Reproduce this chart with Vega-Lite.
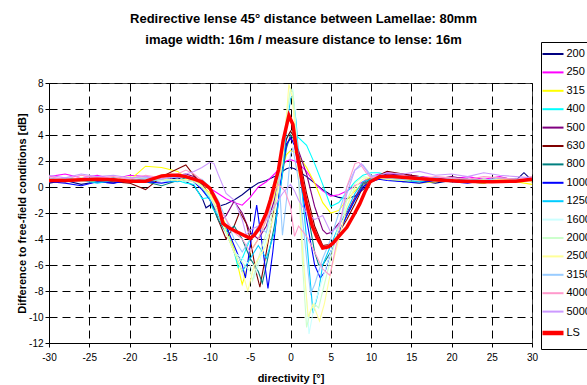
{
"$schema": "https://vega.github.io/schema/vega-lite/v6.json",
"width": 483, "height": 260,
"autosize": {"type": "none"},
"padding": {"left": 49, "top": 83, "right": 55, "bottom": 42},
"background": "white",
"config": {"font": "Liberation Sans", "view": {"stroke": "#404040", "strokeWidth": 1}},
"title": {"text": ["Redirective lense 45° distance between Lamellae: 80mm", "image width: 16m / measure distance to lense: 16m"], "fontSize": 13, "fontWeight": "bold", "font": "Liberation Sans", "color": "black", "anchor": "middle", "offset": -5, "lineHeight": 21, "dx": 13},
"data": {"values": [
{"s":"200","x":-30,"y":0.3},{"s":"200","x":-28,"y":0.5},{"s":"200","x":-26,"y":0.2},{"s":"200","x":-24,"y":0.4},{"s":"200","x":-22,"y":0.3},{"s":"200","x":-20,"y":0.6},{"s":"200","x":-18,"y":0.4},{"s":"200","x":-16,"y":0.5},{"s":"200","x":-14,"y":0.7},{"s":"200","x":-13,"y":0.4},{"s":"200","x":-12,"y":0.1},
{"s":"200","x":-11,"y":-0.8},{"s":"200","x":-10.5,"y":-1.6},{"s":"200","x":-10,"y":-1.4},{"s":"200","x":-9,"y":-1.5},{"s":"200","x":-8,"y":-1.3},{"s":"200","x":-7,"y":-1.0},{"s":"200","x":-6,"y":-0.6},{"s":"200","x":-5,"y":-0.1},{"s":"200","x":-4,"y":0.3},{"s":"200","x":-3,"y":0.5},{"s":"200","x":-2,"y":0.8},{"s":"200","x":-1,"y":1.2},{"s":"200","x":-0.5,"y":1.4},{"s":"200","x":0,"y":1.5},{"s":"200","x":0.5,"y":1.4},{"s":"200","x":1,"y":1.2},{"s":"200","x":2,"y":0.8},{"s":"200","x":3,"y":0.3},{"s":"200","x":4,"y":-0.2},{"s":"200","x":5,"y":-0.6},{"s":"200","x":6,"y":-0.8},{"s":"200","x":7,"y":-0.9},{"s":"200","x":8,"y":-0.7},{"s":"200","x":9,"y":-0.2},{"s":"200","x":10,"y":0.4},
{"s":"200","x":11,"y":0.7},{"s":"200","x":12,"y":0.6},{"s":"200","x":14,"y":0.4},{"s":"200","x":16,"y":0.5},{"s":"200","x":18,"y":0.3},{"s":"200","x":20,"y":0.5},{"s":"200","x":22,"y":0.4},{"s":"200","x":24,"y":0.3},{"s":"200","x":26,"y":0.6},{"s":"200","x":28,"y":0.5},{"s":"200","x":29,"y":1.1},{"s":"200","x":30,"y":0.5},

{"s":"250","x":-30,"y":0.8},{"s":"250","x":-28,"y":1.0},{"s":"250","x":-26,"y":0.7},{"s":"250","x":-24,"y":0.9},{"s":"250","x":-22,"y":0.6},{"s":"250","x":-20,"y":0.9},{"s":"250","x":-18,"y":0.8},{"s":"250","x":-16,"y":0.6},{"s":"250","x":-14,"y":0.8},{"s":"250","x":-13,"y":0.7},{"s":"250","x":-12,"y":0.5},
{"s":"250","x":-11,"y":0.3},{"s":"250","x":-10,"y":-0.1},{"s":"250","x":-9,"y":-0.5},{"s":"250","x":-8,"y":-0.9},{"s":"250","x":-7,"y":-1.2},{"s":"250","x":-6,"y":-1.4},{"s":"250","x":-5,"y":-0.8},{"s":"250","x":-4,"y":0.0},{"s":"250","x":-3,"y":0.4},{"s":"250","x":-2,"y":1.0},{"s":"250","x":-1,"y":1.7},{"s":"250","x":-0.5,"y":2.0},{"s":"250","x":0,"y":2.1},{"s":"250","x":0.5,"y":2.0},{"s":"250","x":1,"y":1.8},{"s":"250","x":2,"y":1.2},{"s":"250","x":3,"y":0.3},{"s":"250","x":4,"y":-0.3},{"s":"250","x":5,"y":-0.7},{"s":"250","x":6,"y":-0.6},{"s":"250","x":7,"y":-0.3},{"s":"250","x":8,"y":0.1},{"s":"250","x":9,"y":0.4},{"s":"250","x":10,"y":0.8},
{"s":"250","x":11,"y":1.0},{"s":"250","x":12,"y":1.1},{"s":"250","x":14,"y":1.0},{"s":"250","x":16,"y":0.8},{"s":"250","x":18,"y":0.7},{"s":"250","x":20,"y":0.6},{"s":"250","x":22,"y":0.8},{"s":"250","x":24,"y":0.6},{"s":"250","x":26,"y":0.8},{"s":"250","x":28,"y":0.5},{"s":"250","x":30,"y":0.7},

{"s":"315","x":-30,"y":0.4},{"s":"315","x":-28,"y":0.6},{"s":"315","x":-26,"y":0.5},{"s":"315","x":-24,"y":0.4},{"s":"315","x":-22,"y":0.6},{"s":"315","x":-20,"y":0.5},{"s":"315","x":-18,"y":1.6},{"s":"315","x":-16,"y":1.5},{"s":"315","x":-14,"y":1.2},{"s":"315","x":-13,"y":0.7},{"s":"315","x":-12,"y":0.6},
{"s":"315","x":-11,"y":0.2},{"s":"315","x":-10,"y":-0.5},{"s":"315","x":-9,"y":-1.5},{"s":"315","x":-8,"y":-3.0},{"s":"315","x":-7,"y":-4.8},{"s":"315","x":-6,"y":-7.5},{"s":"315","x":-5.5,"y":-6.5},{"s":"315","x":-5,"y":-5.0},{"s":"315","x":-4,"y":-4.0},{"s":"315","x":-3,"y":-2.5},{"s":"315","x":-2,"y":-0.5},{"s":"315","x":-1,"y":1.5},{"s":"315","x":-0.5,"y":2.5},{"s":"315","x":0,"y":2.8},{"s":"315","x":0.5,"y":2.7},{"s":"315","x":1,"y":2.4},{"s":"315","x":2,"y":1.5},{"s":"315","x":3,"y":0.3},{"s":"315","x":4,"y":-1.2},{"s":"315","x":5,"y":-2.0},{"s":"315","x":6,"y":-1.8},{"s":"315","x":7,"y":-1.0},{"s":"315","x":8,"y":-0.3},{"s":"315","x":9,"y":0.3},{"s":"315","x":10,"y":0.8},
{"s":"315","x":11,"y":0.9},{"s":"315","x":12,"y":0.6},{"s":"315","x":14,"y":0.5},{"s":"315","x":16,"y":0.3},{"s":"315","x":18,"y":0.4},{"s":"315","x":20,"y":0.5},{"s":"315","x":22,"y":0.4},{"s":"315","x":24,"y":0.3},{"s":"315","x":26,"y":0.5},{"s":"315","x":28,"y":0.4},{"s":"315","x":30,"y":0.2},

{"s":"400","x":-30,"y":0.5},{"s":"400","x":-28,"y":0.7},{"s":"400","x":-26,"y":0.6},{"s":"400","x":-24,"y":0.4},{"s":"400","x":-22,"y":0.6},{"s":"400","x":-20,"y":0.5},{"s":"400","x":-18,"y":0.4},{"s":"400","x":-16,"y":0.6},{"s":"400","x":-14,"y":0.5},{"s":"400","x":-13,"y":0.3},{"s":"400","x":-12,"y":0.2},
{"s":"400","x":-11,"y":-0.9},{"s":"400","x":-10,"y":-0.8},{"s":"400","x":-9,"y":-2.0},{"s":"400","x":-8,"y":-3.3},{"s":"400","x":-7,"y":-5.0},{"s":"400","x":-6.5,"y":-6.2},{"s":"400","x":-6,"y":-5.5},{"s":"400","x":-5,"y":-4.0},{"s":"400","x":-4,"y":-3.3},{"s":"400","x":-3,"y":-1.8},{"s":"400","x":-2,"y":0.2},{"s":"400","x":-1,"y":2.5},{"s":"400","x":-0.5,"y":3.8},{"s":"400","x":0,"y":4.2},{"s":"400","x":0.5,"y":4.1},{"s":"400","x":1,"y":3.8},{"s":"400","x":2,"y":3.2},{"s":"400","x":3,"y":1.8},{"s":"400","x":4,"y":0.2},{"s":"400","x":5,"y":-1.5},{"s":"400","x":6,"y":-1.2},{"s":"400","x":7,"y":-0.4},{"s":"400","x":8,"y":0.4},{"s":"400","x":9,"y":0.9},{"s":"400","x":10,"y":1.1},
{"s":"400","x":11,"y":1.1},{"s":"400","x":12,"y":0.9},{"s":"400","x":14,"y":0.8},{"s":"400","x":16,"y":0.6},{"s":"400","x":18,"y":0.7},{"s":"400","x":20,"y":0.5},{"s":"400","x":22,"y":0.6},{"s":"400","x":24,"y":0.5},{"s":"400","x":26,"y":0.4},{"s":"400","x":28,"y":0.6},{"s":"400","x":30,"y":0.5},

{"s":"500","x":-30,"y":0.6},{"s":"500","x":-28,"y":0.4},{"s":"500","x":-26,"y":0.7},{"s":"500","x":-24,"y":0.5},{"s":"500","x":-22,"y":0.6},{"s":"500","x":-20,"y":0.4},{"s":"500","x":-18,"y":0.7},{"s":"500","x":-16,"y":0.5},{"s":"500","x":-14,"y":0.9},{"s":"500","x":-13,"y":1.0},{"s":"500","x":-12,"y":0.8},
{"s":"500","x":-11,"y":0.3},{"s":"500","x":-10,"y":-0.8},{"s":"500","x":-9,"y":-1.8},{"s":"500","x":-8.5,"y":-2.5},{"s":"500","x":-8,"y":-2.2},{"s":"500","x":-7,"y":-1.1},{"s":"500","x":-6,"y":-2.0},{"s":"500","x":-5,"y":-3.5},{"s":"500","x":-4,"y":-4.0},{"s":"500","x":-3,"y":-3.0},{"s":"500","x":-2,"y":-1.0},{"s":"500","x":-1,"y":1.8},{"s":"500","x":-0.5,"y":3.3},{"s":"500","x":0,"y":3.7},{"s":"500","x":0.5,"y":3.5},{"s":"500","x":1,"y":2.8},{"s":"500","x":2,"y":1.0},{"s":"500","x":3,"y":-1.5},{"s":"500","x":4,"y":-3.3},{"s":"500","x":4.5,"y":-3.6},{"s":"500","x":5,"y":-3.5},{"s":"500","x":6,"y":-2.8},{"s":"500","x":7,"y":-2.0},{"s":"500","x":8,"y":-0.8},{"s":"500","x":9,"y":0.3},{"s":"500","x":10,"y":0.7},
{"s":"500","x":11,"y":0.8},{"s":"500","x":12,"y":1.0},{"s":"500","x":14,"y":0.9},{"s":"500","x":16,"y":0.7},{"s":"500","x":18,"y":0.6},{"s":"500","x":20,"y":0.8},{"s":"500","x":22,"y":0.6},{"s":"500","x":24,"y":0.5},{"s":"500","x":26,"y":0.7},{"s":"500","x":28,"y":0.6},{"s":"500","x":30,"y":0.5},

{"s":"630","x":-30,"y":0.4},{"s":"630","x":-28,"y":0.5},{"s":"630","x":-26,"y":0.6},{"s":"630","x":-24,"y":0.5},{"s":"630","x":-22,"y":0.4},{"s":"630","x":-20,"y":0.3},{"s":"630","x":-18,"y":-0.2},{"s":"630","x":-16,"y":0.8},{"s":"630","x":-14,"y":1.4},{"s":"630","x":-13,"y":1.7},{"s":"630","x":-12,"y":0.9},
{"s":"630","x":-11,"y":0.2},{"s":"630","x":-10,"y":-0.8},{"s":"630","x":-9,"y":-2.5},{"s":"630","x":-8,"y":-4.0},{"s":"630","x":-7,"y":-3.0},{"s":"630","x":-6.3,"y":-1.9},{"s":"630","x":-5.5,"y":-2.8},{"s":"630","x":-5,"y":-4.0},{"s":"630","x":-4.3,"y":-6.5},{"s":"630","x":-3.8,"y":-7.7},{"s":"630","x":-3,"y":-5.0},{"s":"630","x":-2,"y":-1.5},{"s":"630","x":-1,"y":2.0},{"s":"630","x":-0.5,"y":3.7},{"s":"630","x":0,"y":4.3},{"s":"630","x":0.5,"y":3.8},{"s":"630","x":1,"y":2.6},{"s":"630","x":2,"y":-0.5},{"s":"630","x":3,"y":-3.0},{"s":"630","x":4,"y":-4.5},{"s":"630","x":5,"y":-4.4},{"s":"630","x":6,"y":-3.5},{"s":"630","x":7,"y":-2.5},{"s":"630","x":8,"y":-1.3},{"s":"630","x":9,"y":0.0},{"s":"630","x":10,"y":0.7},
{"s":"630","x":11,"y":0.9},{"s":"630","x":12,"y":1.2},{"s":"630","x":14,"y":1.0},{"s":"630","x":16,"y":0.8},{"s":"630","x":18,"y":0.6},{"s":"630","x":20,"y":0.5},{"s":"630","x":22,"y":0.6},{"s":"630","x":24,"y":0.4},{"s":"630","x":26,"y":0.5},{"s":"630","x":28,"y":0.6},{"s":"630","x":30,"y":0.4},

{"s":"800","x":-30,"y":0.5},{"s":"800","x":-28,"y":0.4},{"s":"800","x":-26,"y":0.6},{"s":"800","x":-24,"y":0.5},{"s":"800","x":-22,"y":0.7},{"s":"800","x":-20,"y":0.5},{"s":"800","x":-18,"y":0.4},{"s":"800","x":-16,"y":0.1},{"s":"800","x":-14,"y":0.5},{"s":"800","x":-13,"y":0.7},{"s":"800","x":-12,"y":0.6},
{"s":"800","x":-11,"y":0.0},{"s":"800","x":-10,"y":-1.0},{"s":"800","x":-9,"y":-2.5},{"s":"800","x":-8,"y":-3.5},{"s":"800","x":-7,"y":-3.0},{"s":"800","x":-6,"y":-4.0},{"s":"800","x":-5,"y":-5.5},{"s":"800","x":-4,"y":-6.5},{"s":"800","x":-3.5,"y":-7.4},{"s":"800","x":-3,"y":-6.0},{"s":"800","x":-2,"y":-3.0},{"s":"800","x":-1,"y":1.0},{"s":"800","x":-0.5,"y":3.0},{"s":"800","x":0,"y":4.0},{"s":"800","x":0.5,"y":3.6},{"s":"800","x":1,"y":2.0},{"s":"800","x":2,"y":-1.5},{"s":"800","x":3,"y":-5.0},{"s":"800","x":3.5,"y":-6.0},{"s":"800","x":4,"y":-6.0},{"s":"800","x":5,"y":-5.0},{"s":"800","x":6,"y":-3.5},{"s":"800","x":7,"y":-2.2},{"s":"800","x":8,"y":-1.0},{"s":"800","x":9,"y":0.2},{"s":"800","x":10,"y":0.6},
{"s":"800","x":11,"y":0.8},{"s":"800","x":12,"y":0.7},{"s":"800","x":14,"y":0.6},{"s":"800","x":16,"y":0.5},{"s":"800","x":18,"y":0.6},{"s":"800","x":20,"y":0.4},{"s":"800","x":22,"y":0.5},{"s":"800","x":24,"y":0.6},{"s":"800","x":26,"y":0.4},{"s":"800","x":28,"y":0.5},{"s":"800","x":30,"y":0.6},

{"s":"1000","x":-30,"y":0.4},{"s":"1000","x":-28,"y":0.3},{"s":"1000","x":-26,"y":0.1},{"s":"1000","x":-24,"y":0.4},{"s":"1000","x":-22,"y":0.3},{"s":"1000","x":-20,"y":0.5},{"s":"1000","x":-18,"y":0.4},{"s":"1000","x":-16,"y":0.3},{"s":"1000","x":-14,"y":0.5},{"s":"1000","x":-13,"y":0.6},{"s":"1000","x":-12,"y":0.4},
{"s":"1000","x":-11,"y":-0.2},{"s":"1000","x":-10,"y":-1.0},{"s":"1000","x":-9,"y":-2.0},{"s":"1000","x":-8,"y":-3.0},{"s":"1000","x":-7,"y":-4.5},{"s":"1000","x":-6,"y":-6.0},{"s":"1000","x":-5.6,"y":-7.0},{"s":"1000","x":-5,"y":-4.5},{"s":"1000","x":-4.2,"y":-1.4},{"s":"1000","x":-3.5,"y":-4.5},{"s":"1000","x":-2.8,"y":-7.8},{"s":"1000","x":-2.2,"y":-5.0},{"s":"1000","x":-1.5,"y":-1.0},{"s":"1000","x":-1,"y":1.5},{"s":"1000","x":-0.5,"y":3.3},{"s":"1000","x":0,"y":3.8},{"s":"1000","x":0.5,"y":3.2},{"s":"1000","x":1,"y":1.5},{"s":"1000","x":2,"y":-2.5},{"s":"1000","x":3,"y":-6.0},{"s":"1000","x":3.7,"y":-7.0},{"s":"1000","x":4.3,"y":-6.5},{"s":"1000","x":5,"y":-5.0},{"s":"1000","x":6,"y":-3.5},{"s":"1000","x":7,"y":-2.2},{"s":"1000","x":8,"y":-1.0},{"s":"1000","x":9,"y":0.0},{"s":"1000","x":10,"y":0.4},
{"s":"1000","x":11,"y":0.6},{"s":"1000","x":12,"y":0.5},{"s":"1000","x":14,"y":0.4},{"s":"1000","x":16,"y":0.3},{"s":"1000","x":18,"y":0.5},{"s":"1000","x":20,"y":0.4},{"s":"1000","x":22,"y":0.3},{"s":"1000","x":24,"y":0.5},{"s":"1000","x":26,"y":0.4},{"s":"1000","x":28,"y":0.6},{"s":"1000","x":30,"y":0.5},

{"s":"1250","x":-30,"y":0.4},{"s":"1250","x":-28,"y":0.6},{"s":"1250","x":-26,"y":0.5},{"s":"1250","x":-24,"y":0.3},{"s":"1250","x":-22,"y":0.5},{"s":"1250","x":-20,"y":0.4},{"s":"1250","x":-18,"y":0.6},{"s":"1250","x":-16,"y":0.5},{"s":"1250","x":-14,"y":0.4},{"s":"1250","x":-13,"y":0.6},{"s":"1250","x":-12,"y":0.5},
{"s":"1250","x":-11,"y":0.1},{"s":"1250","x":-10,"y":-1.0},{"s":"1250","x":-9.7,"y":-1.6},{"s":"1250","x":-9,"y":-2.2},{"s":"1250","x":-8,"y":-3.5},{"s":"1250","x":-7,"y":-5.0},{"s":"1250","x":-6,"y":-6.5},{"s":"1250","x":-5,"y":-5.5},{"s":"1250","x":-4,"y":-4.5},{"s":"1250","x":-3,"y":-5.5},{"s":"1250","x":-2,"y":-3.5},{"s":"1250","x":-1,"y":1.0},{"s":"1250","x":-0.5,"y":4.5},{"s":"1250","x":0,"y":6.8},{"s":"1250","x":0.3,"y":7.0},{"s":"1250","x":0.7,"y":5.0},{"s":"1250","x":1,"y":2.5},{"s":"1250","x":2,"y":-4.0},{"s":"1250","x":2.8,"y":-9.7},{"s":"1250","x":3.5,"y":-8.0},{"s":"1250","x":4,"y":-6.0},{"s":"1250","x":5,"y":-4.5},{"s":"1250","x":6,"y":-3.0},{"s":"1250","x":7,"y":-1.8},{"s":"1250","x":8,"y":-0.5},{"s":"1250","x":9,"y":0.4},{"s":"1250","x":10,"y":0.6},
{"s":"1250","x":11,"y":0.7},{"s":"1250","x":12,"y":0.6},{"s":"1250","x":14,"y":0.5},{"s":"1250","x":16,"y":0.4},{"s":"1250","x":18,"y":0.6},{"s":"1250","x":20,"y":0.5},{"s":"1250","x":22,"y":0.4},{"s":"1250","x":24,"y":0.5},{"s":"1250","x":26,"y":0.6},{"s":"1250","x":28,"y":0.4},{"s":"1250","x":30,"y":0.5},

{"s":"1600","x":-30,"y":0.6},{"s":"1600","x":-28,"y":0.5},{"s":"1600","x":-26,"y":0.7},{"s":"1600","x":-24,"y":0.6},{"s":"1600","x":-22,"y":0.5},{"s":"1600","x":-20,"y":0.7},{"s":"1600","x":-18,"y":0.6},{"s":"1600","x":-16,"y":0.5},{"s":"1600","x":-14,"y":0.6},{"s":"1600","x":-13,"y":0.4},{"s":"1600","x":-12,"y":0.5},
{"s":"1600","x":-11,"y":0.0},{"s":"1600","x":-10,"y":-0.8},{"s":"1600","x":-9,"y":-2.0},{"s":"1600","x":-8,"y":-3.5},{"s":"1600","x":-7,"y":-5.0},{"s":"1600","x":-6,"y":-5.5},{"s":"1600","x":-5,"y":-6.0},{"s":"1600","x":-4.5,"y":-7.0},{"s":"1600","x":-4,"y":-6.0},{"s":"1600","x":-3,"y":-4.0},{"s":"1600","x":-2,"y":-2.0},{"s":"1600","x":-1,"y":2.0},{"s":"1600","x":-0.5,"y":5.0},{"s":"1600","x":0,"y":7.3},{"s":"1600","x":0.3,"y":7.5},{"s":"1600","x":0.7,"y":4.5},{"s":"1600","x":1,"y":1.5},{"s":"1600","x":1.7,"y":-6.0},{"s":"1600","x":2.3,"y":-11.3},{"s":"1600","x":3,"y":-9.0},{"s":"1600","x":4,"y":-7.0},{"s":"1600","x":5,"y":-5.0},{"s":"1600","x":6,"y":-3.0},{"s":"1600","x":7,"y":-1.5},{"s":"1600","x":8,"y":0.0},{"s":"1600","x":9,"y":0.6},{"s":"1600","x":10,"y":0.8},
{"s":"1600","x":11,"y":0.8},{"s":"1600","x":12,"y":0.7},{"s":"1600","x":14,"y":0.6},{"s":"1600","x":16,"y":0.5},{"s":"1600","x":18,"y":0.6},{"s":"1600","x":20,"y":0.5},{"s":"1600","x":22,"y":0.4},{"s":"1600","x":24,"y":0.6},{"s":"1600","x":26,"y":0.5},{"s":"1600","x":28,"y":0.6},{"s":"1600","x":30,"y":0.5},

{"s":"2000","x":-30,"y":0.5},{"s":"2000","x":-28,"y":0.6},{"s":"2000","x":-26,"y":0.4},{"s":"2000","x":-24,"y":0.6},{"s":"2000","x":-22,"y":0.5},{"s":"2000","x":-20,"y":0.6},{"s":"2000","x":-18,"y":0.7},{"s":"2000","x":-16,"y":0.5},{"s":"2000","x":-14,"y":0.6},{"s":"2000","x":-13,"y":0.5},{"s":"2000","x":-12,"y":0.4},
{"s":"2000","x":-11,"y":0.0},{"s":"2000","x":-10,"y":-0.7},{"s":"2000","x":-9,"y":-2.0},{"s":"2000","x":-8,"y":-3.5},{"s":"2000","x":-7,"y":-5.0},{"s":"2000","x":-6,"y":-5.8},{"s":"2000","x":-5,"y":-6.5},{"s":"2000","x":-4.7,"y":-7.2},{"s":"2000","x":-4,"y":-5.5},{"s":"2000","x":-3,"y":-3.5},{"s":"2000","x":-2,"y":-1.5},{"s":"2000","x":-1,"y":2.5},{"s":"2000","x":-0.5,"y":5.5},{"s":"2000","x":0,"y":7.6},{"s":"2000","x":0.3,"y":7.3},{"s":"2000","x":0.7,"y":4.0},{"s":"2000","x":1,"y":0.5},{"s":"2000","x":1.5,"y":-6.0},{"s":"2000","x":2,"y":-10.8},{"s":"2000","x":2.5,"y":-9.5},{"s":"2000","x":3,"y":-9.0},{"s":"2000","x":3.5,"y":-9.3},{"s":"2000","x":4,"y":-8.0},{"s":"2000","x":5,"y":-5.5},{"s":"2000","x":6,"y":-3.0},{"s":"2000","x":7,"y":-1.0},{"s":"2000","x":8,"y":0.3},{"s":"2000","x":9,"y":0.8},{"s":"2000","x":10,"y":0.7},
{"s":"2000","x":11,"y":0.8},{"s":"2000","x":12,"y":0.6},{"s":"2000","x":14,"y":0.7},{"s":"2000","x":16,"y":0.5},{"s":"2000","x":18,"y":0.6},{"s":"2000","x":20,"y":0.4},{"s":"2000","x":22,"y":0.5},{"s":"2000","x":24,"y":0.6},{"s":"2000","x":26,"y":0.5},{"s":"2000","x":28,"y":0.4},{"s":"2000","x":30,"y":0.6},

{"s":"2500","x":-30,"y":0.6},{"s":"2500","x":-28,"y":0.5},{"s":"2500","x":-26,"y":0.7},{"s":"2500","x":-24,"y":0.5},{"s":"2500","x":-22,"y":0.6},{"s":"2500","x":-20,"y":0.8},{"s":"2500","x":-18,"y":0.7},{"s":"2500","x":-16,"y":0.6},{"s":"2500","x":-14,"y":0.5},{"s":"2500","x":-13,"y":0.6},{"s":"2500","x":-12,"y":0.5},
{"s":"2500","x":-11,"y":0.1},{"s":"2500","x":-10,"y":-0.6},{"s":"2500","x":-9,"y":-1.8},{"s":"2500","x":-8,"y":-3.5},{"s":"2500","x":-7,"y":-5.0},{"s":"2500","x":-6,"y":-6.5},{"s":"2500","x":-5.3,"y":-8.0},{"s":"2500","x":-4.5,"y":-6.0},{"s":"2500","x":-4,"y":-5.5},{"s":"2500","x":-3,"y":-4.5},{"s":"2500","x":-2,"y":-2.0},{"s":"2500","x":-1,"y":2.0},{"s":"2500","x":-0.5,"y":5.5},{"s":"2500","x":-0.2,"y":7.9},{"s":"2500","x":0.2,"y":7.0},{"s":"2500","x":0.7,"y":3.5},{"s":"2500","x":1,"y":1.0},{"s":"2500","x":1.5,"y":-5.0},{"s":"2500","x":2.2,"y":-10.0},{"s":"2500","x":2.8,"y":-9.0},{"s":"2500","x":3.6,"y":-10.3},{"s":"2500","x":4.2,"y":-9.0},{"s":"2500","x":5,"y":-6.5},{"s":"2500","x":6,"y":-4.0},{"s":"2500","x":7,"y":-1.5},{"s":"2500","x":8,"y":0.0},{"s":"2500","x":9,"y":0.6},{"s":"2500","x":10,"y":0.8},
{"s":"2500","x":11,"y":0.7},{"s":"2500","x":12,"y":0.6},{"s":"2500","x":14,"y":0.5},{"s":"2500","x":16,"y":0.7},{"s":"2500","x":18,"y":0.5},{"s":"2500","x":20,"y":0.6},{"s":"2500","x":22,"y":0.4},{"s":"2500","x":24,"y":0.5},{"s":"2500","x":26,"y":0.6},{"s":"2500","x":28,"y":0.5},{"s":"2500","x":30,"y":0.4},

{"s":"3150","x":-30,"y":0.7},{"s":"3150","x":-28,"y":0.5},{"s":"3150","x":-26,"y":0.6},{"s":"3150","x":-24,"y":0.8},{"s":"3150","x":-22,"y":0.6},{"s":"3150","x":-20,"y":0.5},{"s":"3150","x":-18,"y":0.7},{"s":"3150","x":-16,"y":0.6},{"s":"3150","x":-14,"y":0.8},{"s":"3150","x":-13,"y":0.7},{"s":"3150","x":-12,"y":0.6},
{"s":"3150","x":-11,"y":0.6},{"s":"3150","x":-10,"y":0.0},{"s":"3150","x":-9,"y":-1.0},{"s":"3150","x":-8,"y":-2.5},{"s":"3150","x":-7,"y":-4.0},{"s":"3150","x":-6,"y":-5.0},{"s":"3150","x":-5,"y":-4.0},{"s":"3150","x":-4,"y":-3.0},{"s":"3150","x":-3,"y":-3.5},{"s":"3150","x":-2,"y":0.5},{"s":"3150","x":-1.5,"y":1.5},{"s":"3150","x":-1,"y":-3.7},{"s":"3150","x":-0.5,"y":-1.0},{"s":"3150","x":0,"y":2.5},{"s":"3150","x":0.3,"y":3.0},{"s":"3150","x":1,"y":0.5},{"s":"3150","x":2,"y":-5.5},{"s":"3150","x":2.5,"y":-8.2},{"s":"3150","x":3,"y":-7.5},{"s":"3150","x":4,"y":-5.5},{"s":"3150","x":5,"y":-4.0},{"s":"3150","x":6,"y":-2.0},{"s":"3150","x":7,"y":0.0},{"s":"3150","x":8,"y":1.3},{"s":"3150","x":9,"y":1.7},{"s":"3150","x":10,"y":0.9},
{"s":"3150","x":11,"y":0.8},{"s":"3150","x":12,"y":0.7},{"s":"3150","x":14,"y":0.6},{"s":"3150","x":16,"y":0.8},{"s":"3150","x":18,"y":0.5},{"s":"3150","x":20,"y":0.7},{"s":"3150","x":22,"y":0.6},{"s":"3150","x":24,"y":0.5},{"s":"3150","x":26,"y":0.7},{"s":"3150","x":28,"y":0.6},{"s":"3150","x":30,"y":0.5},

{"s":"4000","x":-30,"y":0.8},{"s":"4000","x":-28,"y":0.6},{"s":"4000","x":-26,"y":0.9},{"s":"4000","x":-24,"y":0.7},{"s":"4000","x":-22,"y":0.8},{"s":"4000","x":-20,"y":0.6},{"s":"4000","x":-18,"y":0.9},{"s":"4000","x":-16,"y":0.7},{"s":"4000","x":-14,"y":1.0},{"s":"4000","x":-13,"y":1.3},{"s":"4000","x":-12,"y":1.0},
{"s":"4000","x":-11,"y":0.5},{"s":"4000","x":-10,"y":-0.3},{"s":"4000","x":-9,"y":-1.5},{"s":"4000","x":-8,"y":-2.5},{"s":"4000","x":-7,"y":-3.5},{"s":"4000","x":-6,"y":-4.0},{"s":"4000","x":-5,"y":-5.0},{"s":"4000","x":-4,"y":-4.0},{"s":"4000","x":-3,"y":-2.5},{"s":"4000","x":-2,"y":-0.3},{"s":"4000","x":-1.5,"y":0.2},{"s":"4000","x":-0.7,"y":-0.3},{"s":"4000","x":0,"y":-1.5},{"s":"4000","x":0.5,"y":-3.8},{"s":"4000","x":1,"y":-3.0},{"s":"4000","x":2,"y":-3.8},{"s":"4000","x":3,"y":-5.0},{"s":"4000","x":4,"y":-6.3},{"s":"4000","x":4.9,"y":-6.8},{"s":"4000","x":5.5,"y":-5.0},{"s":"4000","x":6,"y":-3.5},{"s":"4000","x":7,"y":0.0},{"s":"4000","x":8,"y":1.8},{"s":"4000","x":8.5,"y":1.9},{"s":"4000","x":9.5,"y":1.0},{"s":"4000","x":10,"y":0.7},
{"s":"4000","x":11,"y":0.8},{"s":"4000","x":12,"y":0.7},{"s":"4000","x":14,"y":0.9},{"s":"4000","x":16,"y":0.6},{"s":"4000","x":18,"y":0.8},{"s":"4000","x":20,"y":0.7},{"s":"4000","x":22,"y":0.6},{"s":"4000","x":24,"y":0.8},{"s":"4000","x":26,"y":0.7},{"s":"4000","x":28,"y":0.6},{"s":"4000","x":30,"y":0.8},

{"s":"5000","x":-30,"y":0.9},{"s":"5000","x":-28,"y":0.7},{"s":"5000","x":-26,"y":1.0},{"s":"5000","x":-24,"y":0.8},{"s":"5000","x":-22,"y":0.9},{"s":"5000","x":-20,"y":0.7},{"s":"5000","x":-18,"y":0.8},{"s":"5000","x":-16,"y":0.6},{"s":"5000","x":-14,"y":0.9},{"s":"5000","x":-13,"y":1.0},{"s":"5000","x":-12,"y":1.2},
{"s":"5000","x":-11,"y":1.5},{"s":"5000","x":-10,"y":1.9},{"s":"5000","x":-9.5,"y":1.8},{"s":"5000","x":-9,"y":1.0},{"s":"5000","x":-8,"y":-0.5},{"s":"5000","x":-7,"y":-1.0},{"s":"5000","x":-6,"y":-2.5},{"s":"5000","x":-5.5,"y":-3.7},{"s":"5000","x":-5,"y":-3.3},{"s":"5000","x":-4,"y":-3.0},{"s":"5000","x":-3,"y":-2.5},{"s":"5000","x":-2,"y":-1.5},{"s":"5000","x":-1,"y":-0.5},{"s":"5000","x":0,"y":0.2},{"s":"5000","x":0.5,"y":-0.3},{"s":"5000","x":1,"y":-1.0},{"s":"5000","x":2,"y":-2.0},{"s":"5000","x":3,"y":-2.5},{"s":"5000","x":4,"y":-2.2},{"s":"5000","x":5,"y":-3.5},{"s":"5000","x":6,"y":-3.0},{"s":"5000","x":7,"y":-0.5},{"s":"5000","x":8,"y":1.3},{"s":"5000","x":8.8,"y":1.8},{"s":"5000","x":9.5,"y":1.2},{"s":"5000","x":10,"y":0.8},
{"s":"5000","x":11,"y":0.9},{"s":"5000","x":12,"y":1.1},{"s":"5000","x":14,"y":1.0},{"s":"5000","x":16,"y":1.2},{"s":"5000","x":18,"y":0.9},{"s":"5000","x":20,"y":1.0},{"s":"5000","x":22,"y":0.8},{"s":"5000","x":24,"y":1.1},{"s":"5000","x":26,"y":0.9},{"s":"5000","x":28,"y":0.8},{"s":"5000","x":30,"y":0.7},

{"s":"LS","x":-30,"y":0.5},{"s":"LS","x":-28,"y":0.5},{"s":"LS","x":-26,"y":0.55},{"s":"LS","x":-24,"y":0.6},{"s":"LS","x":-22,"y":0.55},{"s":"LS","x":-20,"y":0.45},{"s":"LS","x":-18,"y":0.45},{"s":"LS","x":-17,"y":0.65},{"s":"LS","x":-16,"y":0.85},{"s":"LS","x":-15,"y":0.9},{"s":"LS","x":-14,"y":0.9},{"s":"LS","x":-13,"y":0.8},{"s":"LS","x":-12,"y":0.6},{"s":"LS","x":-11,"y":0.4},{"s":"LS","x":-10,"y":-0.1},{"s":"LS","x":-9,"y":-1.3},{"s":"LS","x":-8.4,"y":-2.8},{"s":"LS","x":-7.5,"y":-3.2},{"s":"LS","x":-6.5,"y":-3.5},{"s":"LS","x":-5,"y":-3.95},{"s":"LS","x":-4.5,"y":-3.7},{"s":"LS","x":-3.8,"y":-3.1},{"s":"LS","x":-3,"y":-2.0},{"s":"LS","x":-2.5,"y":-1.0},{"s":"LS","x":-1.5,"y":1.3},{"s":"LS","x":-0.9,"y":3.6},{"s":"LS","x":-0.2,"y":5.5},{"s":"LS","x":0.3,"y":4.8},{"s":"LS","x":0.8,"y":2.6},{"s":"LS","x":1.5,"y":0.2},{"s":"LS","x":2,"y":-1.3},{"s":"LS","x":2.7,"y":-3.0},{"s":"LS","x":3.3,"y":-3.9},{"s":"LS","x":4,"y":-4.7},{"s":"LS","x":4.7,"y":-4.6},{"s":"LS","x":5.3,"y":-4.3},{"s":"LS","x":6,"y":-3.8},{"s":"LS","x":7,"y":-3.1},{"s":"LS","x":8,"y":-2.0},{"s":"LS","x":8.6,"y":-1.3},{"s":"LS","x":9.3,"y":-0.3},{"s":"LS","x":9.9,"y":0.4},{"s":"LS","x":10.5,"y":0.6},{"s":"LS","x":11.1,"y":0.8},{"s":"LS","x":12.7,"y":0.8},{"s":"LS","x":15,"y":0.7},{"s":"LS","x":17,"y":0.6},{"s":"LS","x":21,"y":0.45},{"s":"LS","x":25,"y":0.4},{"s":"LS","x":28,"y":0.45},{"s":"LS","x":30,"y":0.6}
]},
"mark": {"type": "line", "clip": true},
"encoding": {
  "x": {"field": "x", "type": "quantitative",
    "scale": {"domain": [-30, 30], "nice": false, "zero": false},
    "axis": {"values": [-30,-25,-20,-15,-10,-5,0,5,10,15,20,25,30], "labelExpr": "'' + datum.value", "title": "directivity [°]", "titleFontSize": 11, "titleFontWeight": "bold", "titleColor": "black", "titlePadding": 10, "labelFontSize": 10, "labelColor": "black", "labelPadding": 5, "labelFlush": false, "grid": true, "gridDash": [8, 5], "gridColor": "black", "gridOpacity": 1, "domainColor": "black", "tickColor": "black", "tickSize": 4}},
  "y": {"field": "y", "type": "quantitative",
    "scale": {"domain": [-12, 8], "nice": false, "zero": false},
    "axis": {"values": [-12,-10,-8,-6,-4,-2,0,2,4,6,8], "labelExpr": "'' + datum.value", "title": "Difference to free-field conditions [dB]", "titleFontSize": 11, "titleFontWeight": "bold", "titleColor": "black", "titlePadding": 1, "labelFontSize": 10, "labelColor": "black", "labelPadding": 2, "labelFlush": false, "grid": true, "gridDash": [8, 5], "gridColor": "black", "gridOpacity": 1, "domainColor": "black", "tickColor": "black", "tickSize": 4}},
  "color": {"field": "s", "type": "nominal",
    "scale": {"domain": ["200","250","315","400","500","630","800","1000","1250","1600","2000","2500","3150","4000","5000","LS"],
      "range": ["#000080","#FF00FF","#FFFF00","#00FFFF","#800080","#800000","#008080","#0000FF","#00CCFF","#CCFFFF","#CCFFCC","#FFFF99","#99CCFF","#FF99CC","#CC99FF","#FF0000"]},
    "legend": {"orient": "none", "legendX": 492, "legendY": -41, "title": null, "symbolType": "M-1.4,0H1.4", "symbolSize": 225, "symbolStrokeWidth": 2, "labelFontSize": 11, "labelFont": "Liberation Sans", "labelColor": "black", "labelLimit": 200, "labelOffset": 8, "strokeColor": "black", "fillColor": "white", "padding": 6.5, "rowPadding": 6.4, "symbolOffset": 0,
      "encode": {"symbols": {"update": {"strokeWidth": {"signal": "datum.value === 'LS' ? 4.5 : 2"}}}}}},
  "strokeWidth": {"condition": {"test": "datum.s === 'LS'", "value": 3.5}, "value": 1.1}
}
}
